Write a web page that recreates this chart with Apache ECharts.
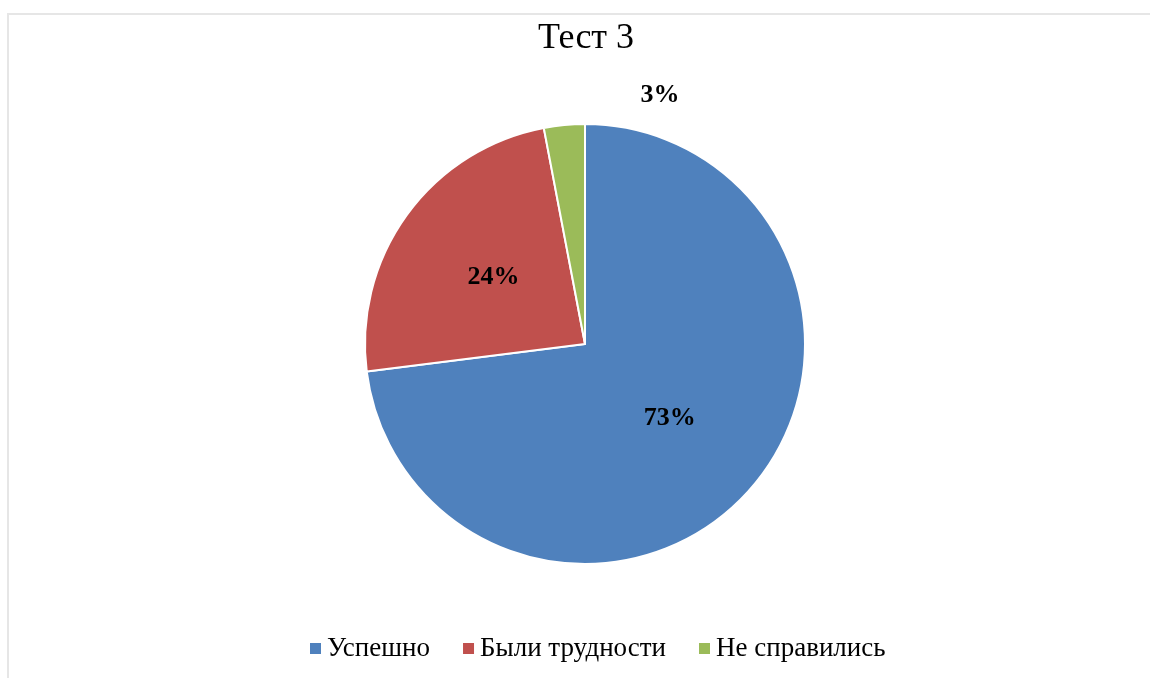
<!DOCTYPE html>
<html>
<head>
<meta charset="utf-8">
<script src="https://cdn.jsdelivr.net/npm/echarts@6/dist/echarts.min.js"></script>
<style>
  html, body { margin: 0; padding: 0; background: #fff; }
  #chart { width: 1150px; height: 678px; }
</style>
</head>
<body>
<div id="chart"></div>
<script>
var categories = ["Успешно", "Были трудности", "Не справились"];
var values = [73, 24, 3];
var colors = ["#4f81bd", "#c0504d", "#9bbb59"];
var serif = "'Liberation Serif', 'Times New Roman', serif";

var myChart = echarts.init(document.getElementById("chart"));

var pieData = categories.map(function (name, i) {
  return { name: name, value: values[i], itemStyle: { color: colors[i] } };
});
// the small slice gets its label outside, like in the original
pieData[2].label = { position: "outside" };

myChart.setOption({
  animation: false,
  // light frame on the top and left edge
  graphic: [
    {
      type: "rect",
      shape: { x: 8, y: 14, width: 1200, height: 700 },
      style: { fill: null, stroke: "#e6e6e6", lineWidth: 2 },
      silent: true
    }
  ],
  title: {
    text: "Тест 3",
    left: 581,
    top: 16,
    textAlign: "center",
    textStyle: { fontFamily: serif, fontSize: 36, fontWeight: "normal", color: "#000" }
  },
  legend: {
    bottom: 11,
    left: 303,
    icon: "rect",
    itemWidth: 13,
    itemHeight: 13,
    itemGap: 31,
    textStyle: { fontFamily: serif, fontSize: 27, color: "#000" },
    data: categories
  },
  series: [
    {
      type: "pie",
      center: [585, 344],
      radius: 220,
      startAngle: 90,
      clockwise: true,
      avoidLabelOverlap: false,
      itemStyle: { borderColor: "#fff", borderWidth: 2 },
      label: {
        show: true,
        position: "inside",
        formatter: "{c}%",
        fontFamily: serif,
        fontSize: 26,
        fontWeight: "bold",
        color: "#000"
      },
      labelLine: { show: false },
      labelLayout: function (params) {
        if (params.dataIndex === 2) {
          return { x: 660, y: 95, align: "center", verticalAlign: "middle" };
        }
      },
      emphasis: { disabled: true },
      data: pieData
    }
  ]
});
</script>
</body>
</html>
